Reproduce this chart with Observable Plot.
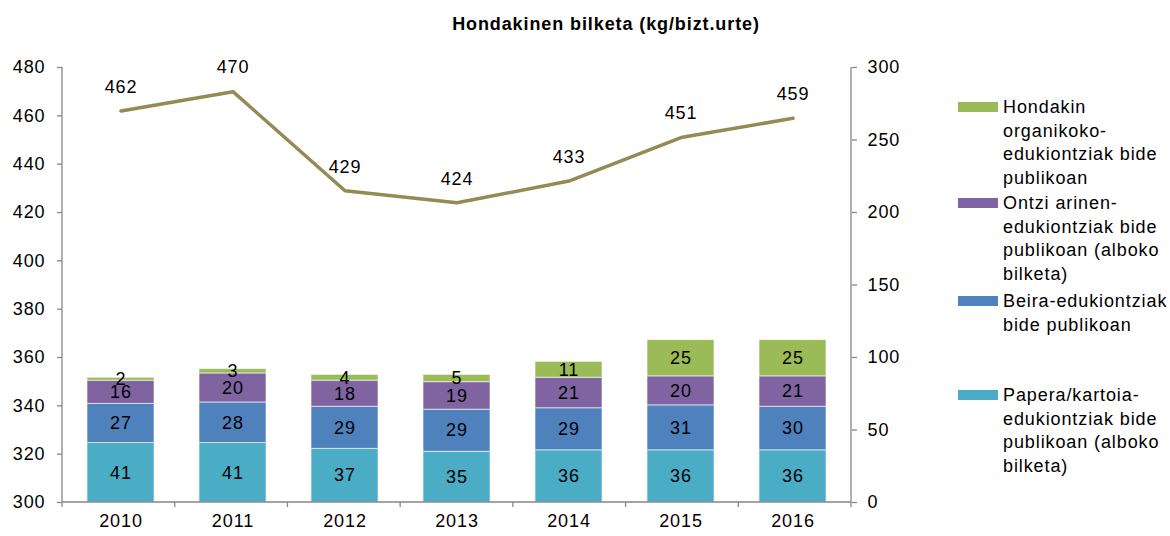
<!DOCTYPE html>
<html>
<head>
<meta charset="utf-8">
<script src="https://cdn.jsdelivr.net/npm/d3@7"></script>
<script src="https://cdn.jsdelivr.net/npm/@observablehq/plot@0.6"></script>
<style>
  body { margin: 0; background: #fff; font-family: "Liberation Sans", Arial, sans-serif; }
  #wrap { position: relative; width: 1170px; height: 536px; overflow: hidden; }
  #title { position: absolute; top: 14px; left: 0; width: 1212px; text-align: center; font-weight: bold; font-size: 18px; letter-spacing: 0.9px; line-height: 21px; color: #000; }
  #chart { position: absolute; top: 0; left: 0; }
  .leg { position: absolute; left: 958px; font-size: 18px; letter-spacing: 0.9px; line-height: 23.5px; color: #000; }
  .leg .sw { position: absolute; left: 0; width: 40px; height: 10.5px; top: 5.5px; }
  .leg .tx { position: absolute; left: 45px; white-space: nowrap; }
</style>
</head>
<body>
<div id="wrap">
  <div id="title">Hondakinen bilketa (kg/bizt.urte)</div>
  <div id="chart"></div>
</div>
<script>
// ---- data ----
const years = ["2010", "2011", "2012", "2013", "2014", "2015", "2016"];
const seriesNames = [
  "Papera/kartoia-edukiontziak bide publikoan (alboko bilketa)",
  "Beira-edukiontziak bide publikoan",
  "Ontzi arinen-edukiontziak bide publikoan (alboko bilketa)",
  "Hondakin organikoko-edukiontziak bide publikoan"
];
const seriesColors = ["#4BACC6", "#4F81BD", "#8064A2", "#9BBB59"];
const papera   = [41, 41, 37, 35, 36, 36, 36];
const beira    = [27, 28, 29, 29, 29, 31, 30];
const ontzi    = [16, 20, 18, 19, 21, 20, 21];
const organiko = [2, 3, 4, 5, 11, 25, 25];
const total    = [462, 470, 429, 424, 433, 451, 459];
const leftTicks  = [300, 320, 340, 360, 380, 400, 420, 440, 460, 480];
const rightTicks = [0, 50, 100, 150, 200, 250, 300];
const legendLines = [
  ["Hondakin", "organikoko-", "edukiontziak bide", "publikoan"],
  ["Ontzi arinen-", "edukiontziak bide", "publikoan (alboko", "bilketa)"],
  ["Beira-edukiontziak", "bide publikoan"],
  ["Papera/kartoia-", "edukiontziak bide", "publikoan (alboko", "bilketa)"]
];
const legendOrder = [3, 2, 1, 0];
const legendTops = [96, 192, 290, 384];

// ---- build tables ----
const seriesValues = [papera, beira, ontzi, organiko];
const rows = [];
seriesNames.forEach((s, si) => {
  years.forEach((y, yi) => rows.push({year: y, series: s, value: seriesValues[si][yi]}));
});
const lineRows = years.map((y, i) => ({year: y, total: total[i]}));

// left axis (300..480) mapped onto right scale (0..300)
const lMin = 300, lMax = 480, rMax = 300;
const toRight = v => (v - lMin) * rMax / (lMax - lMin);
const toLeft = v => Math.round(lMin + v * (lMax - lMin) / rMax);

const axisColor = "#868686";
const font = "Liberation Sans, Arial, sans-serif";

const frameLines = (index, scales, values, dimensions) => {
  const {width, height, marginLeft, marginRight, marginTop, marginBottom} = dimensions;
  const g = d3.create("svg:g").attr("stroke", axisColor).attr("stroke-width", 1.3).attr("fill", "none");
  const yb = height - marginBottom;
  const xl = marginLeft, xr = width - marginRight;
  g.append("line").attr("x1", xl).attr("x2", xl).attr("y1", marginTop).attr("y2", yb);
  g.append("line").attr("x1", xr).attr("x2", xr).attr("y1", marginTop).attr("y2", yb);
  g.append("line").attr("x1", xl).attr("x2", xr).attr("y1", yb).attr("y2", yb);
  const n = years.length;
  const step = (xr - xl) / n;
  for (let k = 0; k <= n; k++) {
    const x = xl + k * step;
    g.append("line").attr("x1", x).attr("x2", x).attr("y1", yb).attr("y2", yb + 5);
  }
  return g.node();
};

const plot = Plot.plot({
  width: 1170,
  height: 536,
  marginTop: 67,
  marginBottom: 34,
  marginLeft: 62,
  marginRight: 319,
  style: {fontFamily: font, fontSize: "18px", letterSpacing: "0.9px", color: "#000", background: "transparent"},
  x: {domain: years, paddingInner: 0.4, paddingOuter: 0.2, label: null},
  y: {domain: [0, 300], label: null},
  color: {domain: seriesNames, range: seriesColors},
  marks: [
    Plot.barY(rows, {x: "year", y: "value", fill: "series", stroke: "#ffffff", strokeOpacity: 0.6, strokeWidth: 1}),
    Plot.text(rows, Plot.stackY({x: "year", y: "value", z: "series", text: d => String(d.value), fill: "#000", fontSize: 18})),
    Plot.line(lineRows, {x: "year", y: d => toRight(d.total), stroke: "#948A54", strokeWidth: 3.5}),
    Plot.text(lineRows, {x: "year", y: d => toRight(d.total), text: d => String(d.total), dy: -24, fill: "#000", fontSize: 18}),
    Plot.axisY({anchor: "left", ticks: leftTicks.map(toRight), tickFormat: toLeft, tickSize: 5, tickPadding: 12, stroke: axisColor, strokeWidth: 1.3, fill: "#000", fontSize: 18, label: null}),
    Plot.axisY({anchor: "right", ticks: rightTicks, tickFormat: d => String(d), tickSize: 5, tickPadding: 11, stroke: axisColor, strokeWidth: 1.3, fill: "#000", fontSize: 18, label: null}),
    Plot.axisX({anchor: "bottom", tickSize: 0, tickPadding: 12, fill: "#000", fontSize: 18, label: null}),
    frameLines
  ]
});
document.getElementById("chart").appendChild(plot);

// ---- legend ----
const wrap = document.getElementById("wrap");
legendOrder.forEach((si, k) => {
  const item = document.createElement("div");
  item.className = "leg";
  item.style.top = legendTops[k] + "px";
  const sw = document.createElement("div");
  sw.className = "sw";
  sw.style.background = seriesColors[si];
  const tx = document.createElement("div");
  tx.className = "tx";
  tx.innerHTML = legendLines[k].join("<br>");
  item.appendChild(sw);
  item.appendChild(tx);
  wrap.appendChild(item);
});
</script>
</body>
</html>
